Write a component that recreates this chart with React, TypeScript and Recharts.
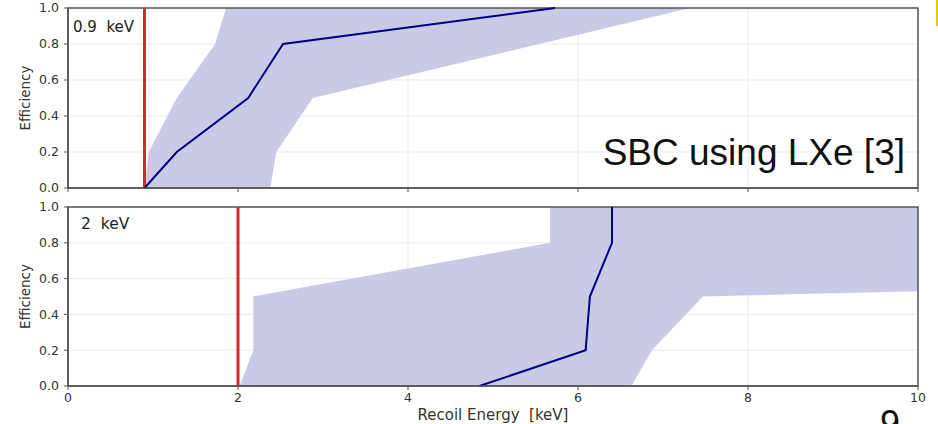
import {
  ComposedChart,
  Area,
  Line,
  XAxis,
  YAxis,
  CartesianGrid,
  ReferenceLine,
  ReferenceArea,
} from 'recharts';

// Recoil energy ticks (keV) and efficiency ticks
const energyTicks = [0, 2, 4, 6, 8, 10];
const effTicks = [0, 0.2, 0.4, 0.6, 0.8, 1.0];

// 0.9 keV threshold panel
const thrLow = 0.9;
const lowMeanE = [0.9, 1.28, 2.12, 2.53, 5.73];
const lowMeanEff = [0.0, 0.2, 0.5, 0.8, 1.0];
const lowBandE = [0.9, 0.95, 1.28, 1.73, 1.86, 2.38, 2.45, 2.88, 7.32];
const lowBandMin = [0, 0, 0, 0, 0, 0, 0.2, 0.5, 1.0];
const lowBandMax = [0, 0.2, 0.5, 0.8, 1.0, 1.0, 1.0, 1.0, 1.0];

// 2 keV threshold panel
const thrHigh = 2;
const highMeanE = [4.84, 6.09, 6.14, 6.4, 6.4];
const highMeanEff = [0.0, 0.2, 0.5, 0.8, 1.0];
const highBandE = [2.02, 2.18, 2.18, 5.67, 5.67, 6.63, 6.87, 7.47, 10];
const highBandMin = [0, 0, 0, 0, 0, 0, 0.2, 0.5, 0.53];
const highBandMax = [0, 0.2, 0.5, 0.8, 1.0, 1.0, 1.0, 1.0, 1.0];

const FONT = 'DejaVu Sans, sans-serif';
const AXIS = '#555';
const BAND = '#cacae6';
const MEAN = '#00008b';
const THRESH = '#d9262b';

const zip = (xs: number[], ys: number[]) => xs.map((x, i) => ({ x, y: ys[i] }));
const band = (xs: number[], lo: number[], hi: number[]) =>
  xs.map((x, i) => ({ x, range: [lo[i], hi[i]] }));

const tickStyle = { fill: '#333', fontSize: 12.5, fontFamily: FONT };

function EffLabel(props: any) {
  const vb = props.viewBox || {};
  const cy = vb.y + vb.height / 2;
  return (
    <text
      x={25}
      y={cy}
      transform={`rotate(-90 25 ${cy})`}
      textAnchor="middle"
      dominantBaseline="central"
      fill="#333"
      fontSize={13.5}
      fontFamily={FONT}
    >
      Efficiency
    </text>
  );
}

function EnergyLabel(props: any) {
  const vb = props.viewBox || {};
  const cx = vb.x + vb.width / 2;
  return (
    <text
      x={cx}
      y={225}
      textAnchor="middle"
      xmlSpace="preserve"
      fill="#333"
      fontSize={15}
      fontFamily={FONT}
      style={{ whiteSpace: 'pre' }}
    >
      Recoil Energy  [keV]
    </text>
  );
}

interface PanelProps {
  width: number;
  height: number;
  marginTop: number;
  axisHeight: number;
  threshold: number;
  meanData: { x: number; y: number }[];
  bandData: { x: number; range: number[] }[];
  showTickLabels: boolean;
}

function Panel({ width, height, marginTop, axisHeight, threshold, meanData, bandData, showTickLabels }: PanelProps) {
  return (
    <ComposedChart width={width} height={height} margin={{ top: marginTop, right: 20, left: 0, bottom: 0 }}>
      <CartesianGrid stroke="#ebebeb" strokeWidth={1} />
      <XAxis
        type="number"
        dataKey="x"
        domain={[0, 10]}
        ticks={energyTicks}
        allowDataOverflow
        height={axisHeight}
        tickSize={4}
        tickMargin={3}
        tickLine={{ stroke: AXIS }}
        axisLine={{ stroke: AXIS, strokeWidth: 1.5 }}
        tick={tickStyle}
        tickFormatter={(v: number) => (showTickLabels ? String(v) : '')}
        label={showTickLabels ? <EnergyLabel /> : undefined}
      />
      <YAxis
        type="number"
        domain={[0, 1]}
        ticks={effTicks}
        width={68}
        tickSize={4}
        tickMargin={5}
        tickLine={{ stroke: AXIS }}
        axisLine={{ stroke: AXIS, strokeWidth: 1.5 }}
        tick={tickStyle}
        tickFormatter={(v: number) => v.toFixed(1)}
        label={<EffLabel />}
      />
      <Area
        data={bandData}
        dataKey="range"
        type="linear"
        fill={BAND}
        fillOpacity={1}
        stroke="none"
        isAnimationActive={false}
      />
      <ReferenceLine x={threshold} stroke={THRESH} strokeWidth={3} />
      <Line
        data={meanData}
        dataKey="y"
        type="linear"
        stroke={MEAN}
        strokeWidth={2}
        dot={false}
        isAnimationActive={false}
      />
      <ReferenceArea x1={0} x2={10} y1={0} y2={1} fill="none" stroke={AXIS} strokeWidth={1.5} />
    </ComposedChart>
  );
}

export default function App() {
  return (
    <div
      style={{
        position: 'absolute',
        left: 0,
        top: 0,
        width: 938,
        height: 424,
        overflow: 'hidden',
        background: '#fff',
      }}
    >
      <div style={{ position: 'absolute', left: 0, top: 0 }}>
        <Panel
          width={938}
          height={200}
          marginTop={8}
          axisHeight={12}
          threshold={thrLow}
          meanData={zip(lowMeanE, lowMeanEff)}
          bandData={band(lowBandE, lowBandMin, lowBandMax)}
          showTickLabels={false}
        />
      </div>
      <div style={{ position: 'absolute', left: 0, top: 195 }}>
        <Panel
          width={938}
          height={229}
          marginTop={12}
          axisHeight={38}
          threshold={thrHigh}
          meanData={zip(highMeanE, highMeanEff)}
          bandData={band(highBandE, highBandMin, highBandMax)}
          showTickLabels={true}
        />
      </div>
      <svg
        width={938}
        height={424}
        style={{ position: 'absolute', left: 0, top: 0, pointerEvents: 'none' }}
      >
        <text x={73} y={32} fontSize={15} fontFamily={FONT} fill="#222" style={{ whiteSpace: 'pre' }}>
          0.9  keV
        </text>
        <text x={81} y={229} fontSize={15.5} fontFamily={FONT} fill="#222" style={{ whiteSpace: 'pre' }}>
          2  keV
        </text>
        <text x={905} y={165} textAnchor="end" fontSize={37} fontFamily="Liberation Sans, Arial, sans-serif" fill="#111">
          SBC using LXe [3]
        </text>
        <text x={880} y={436} fontSize={36} fontFamily="Liberation Sans, Arial, sans-serif" fill="#111">
          9
        </text>
        <path d="M937.5 0 L937.5 26" stroke="#f2c400" strokeWidth={3} fill="none" />
      </svg>
    </div>
  );
}
